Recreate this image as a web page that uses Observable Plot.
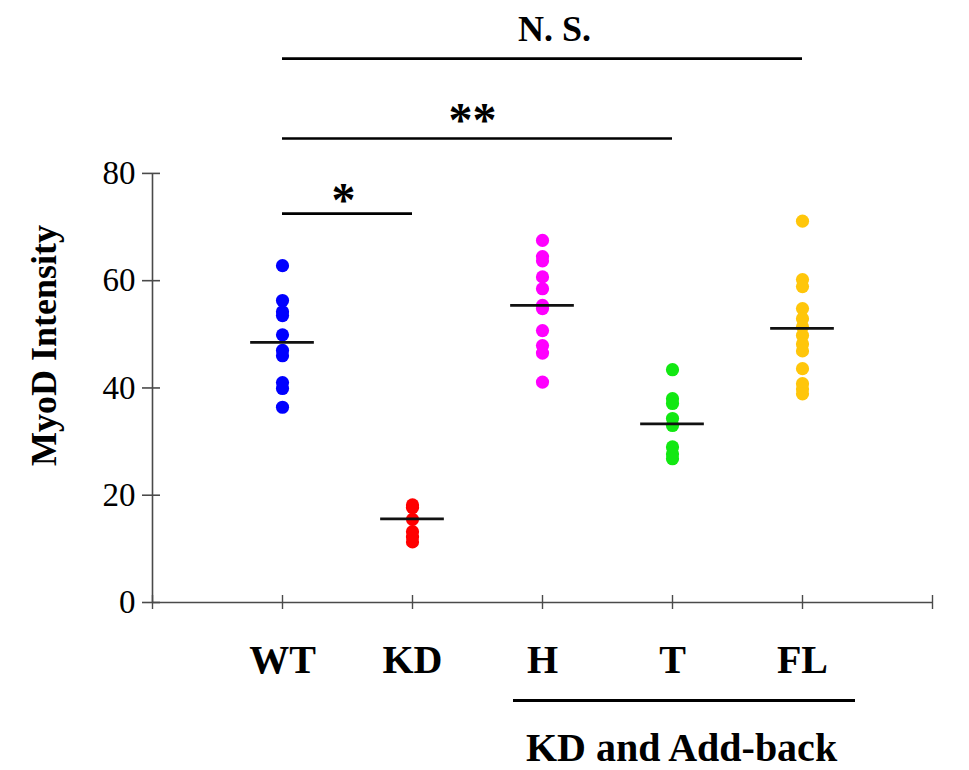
<!DOCTYPE html>
<html>
<head>
<meta charset="utf-8">
<script src="https://cdn.jsdelivr.net/npm/d3@7"></script>
<script src="https://cdn.jsdelivr.net/npm/@observablehq/plot@0.6"></script>
<style>
  html, body { margin: 0; padding: 0; background: #ffffff; }
  #chart svg { display: block; }
</style>
</head>
<body>
<div id="chart"></div>
<script>
// ---- Data ----
const groups = ["WT", "KD", "H", "T", "FL"];
const colors = ["#0000ff", "#ff0000", "#ff00ff", "#12e812", "#ffc60a"];
const wt = [62.8, 56.3, 54.2, 53.5, 49.9, 47.0, 46.0, 41.0, 39.9, 36.4];
const kd = [18.2, 17.7, 15.5, 13.2, 12.2, 11.3];
const h  = [67.5, 64.5, 63.7, 60.7, 58.5, 55.4, 54.8, 50.7, 47.9, 46.5, 41.1];
const t  = [43.4, 38.0, 37.1, 34.3, 33.0, 29.0, 27.7, 26.8];
const fl = [71.1, 60.2, 58.9, 54.8, 52.9, 51.4, 49.8, 48.2, 46.9, 43.6, 40.8, 39.8, 38.9];
const means = [48.5, 15.6, 55.4, 33.3, 51.1];
const yTicks = [0, 20, 40, 60, 80];
const yLabel = "MyoD Intensity";
// significance brackets
const sigFrom = ["WT", "WT", "WT"];
const sigTo = ["KD", "T", "FL"];
const sigLevel = [72.5, 86.5, 101.4];
const sigLabel = ["*", "**", "N. S."];
// group bracket below axis
const addBackGroups = ["H", "T", "FL"];
const addBackLabel = "KD and Add-back";

// ---- Build tables ----
const series = [wt, kd, h, t, fl];
const pos = g => groups.indexOf(g) + 1;
const points = series.flatMap((vals, i) => vals.map(v => ({group: groups[i], pos: i + 1, value: v, color: colors[i]})));
const meanRows = means.map((m, i) => ({group: groups[i], pos: i + 1, value: m}));
const sigRows = sigLabel.map((lab, i) => ({from: pos(sigFrom[i]), to: pos(sigTo[i]), level: sigLevel[i], label: lab}));
const xTickPos = d3.range(0, groups.length + 2);
const addBack = {from: pos(addBackGroups[0]), to: pos(addBackGroups[addBackGroups.length - 1]), label: addBackLabel};

const font = "'Liberation Serif', 'Times New Roman', Times, serif";

const sigText = (i, dx, dy, size) => Plot.text([sigRows[i]], {
  x: d => (d.from + d.to) / 2, y: "level", text: "label",
  dx, dy, fontSize: size, fontWeight: "bold", lineAnchor: "middle", textAnchor: "middle", fill: "#000"
});

const chart = Plot.plot({
  width: 969,
  height: 770,
  marginLeft: 152,
  marginRight: 37,
  marginTop: 12,
  marginBottom: 168,
  x: {domain: [0, groups.length + 1]},
  y: {domain: [0, 110]},
  color: {type: "identity"},
  style: {fontFamily: font, background: "#ffffff", color: "#000", overflow: "visible"},
  marks: [
    // axis lines
    Plot.ruleX([0], {y1: () => 0, y2: () => d3.max(yTicks), stroke: "#4a4a4a", strokeWidth: 1.6}),
    Plot.ruleY([0], {x1: () => 0, x2: () => groups.length + 1, stroke: "#4a4a4a", strokeWidth: 1.6}),
    // y axis ticks crossing the line + labels
    Plot.axisY({ticks: yTicks, tickSize: 18, dx: 8, tickPadding: 7, fontSize: 33, label: null, stroke: "#4a4a4a", strokeWidth: 1.6}),
    // x axis ticks crossing the line
    Plot.axisX({ticks: xTickPos, tickSize: 14, dy: -7, tickFormat: () => "", label: null, stroke: "#4a4a4a", strokeWidth: 1.4}),
    // category labels
    Plot.axisX({ticks: groups.map((g, i) => i + 1), tickFormat: v => groups[v - 1], tickSize: 0, tickPadding: 42, fontSize: 40, fontWeight: "bold", label: null}),
    // y label
    Plot.text([yLabel], {frameAnchor: "left", dx: -108, dy: 38, rotate: -90, fontSize: 36, fontWeight: "bold", lineAnchor: "middle", textAnchor: "middle", text: d => d}),
    // dots
    Plot.dot(points, {x: "pos", y: "value", r: 6.6, fill: "color", stroke: "none"}),
    // mean lines
    Plot.ruleY(meanRows, {y: "value", x1: d => d.pos - 0.245, x2: d => d.pos + 0.245, stroke: "#111", strokeWidth: 2.6}),
    // significance brackets
    Plot.ruleY(sigRows, {y: "level", x1: "from", x2: "to", stroke: "#000", strokeWidth: 2.6}),
    sigText(0, -4, -13, 48),
    sigText(1, -5, -18, 48),
    sigText(2, 12, -29.5, 36),
    // add-back bracket
    Plot.ruleY([addBack], {y: () => 0, x1: "from", x2: "to", dy: 98, insetLeft: -29, insetRight: -53, stroke: "#000", strokeWidth: 3.2}),
    Plot.text([addBack], {x: d => (d.from + d.to) / 2, y: () => 0, text: "label", dx: 9, dy: 146, fontSize: 40, fontWeight: "bold", lineAnchor: "middle"})
  ]
});
document.getElementById("chart").appendChild(chart);
</script>
</body>
</html>
